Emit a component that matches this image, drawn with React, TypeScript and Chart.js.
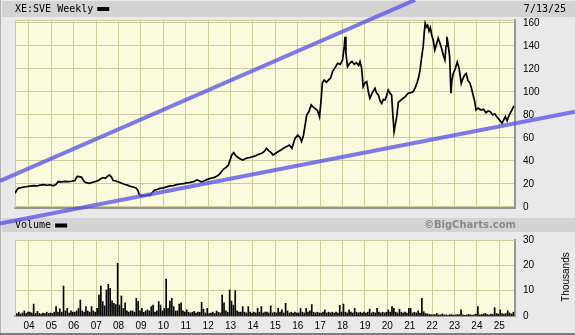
import React, { useEffect, useRef } from 'react';
import { Chart, registerables } from 'chart.js';

Chart.register(...registerables);

// ---------- texts ----------
const TITLE = 'XE:SVE Weekly';
const DATE_LABEL = '7/13/25';
const VOLUME_TITLE = 'Volume';
const CREDIT = '\u00A9BigCharts.com';
const VOLUME_UNIT = 'Thousands';

// ---------- axes ----------
const X_MIN = 2003.375;
const X_MAX = 2025.7;
const YEAR_TICKS = [2004, 2005, 2006, 2007, 2008, 2009, 2010, 2011, 2012, 2013, 2014, 2015, 2016, 2017, 2018, 2019, 2020, 2021, 2022, 2023, 2024, 2025];
const YEAR_LABELS = ['04', '05', '06', '07', '08', '09', '10', '11', '12', '13', '14', '15', '16', '17', '18', '19', '20', '21', '22', '23', '24', '25'];
const PRICE_TICKS = [0, 20, 40, 60, 80, 100, 120, 140, 160];
const PRICE_MIN = -0.87;
const PRICE_MAX = 162.6;
const VOLUME_TICKS = [0, 10, 20, 30];
const VOLUME_MIN = 0;
const VOLUME_MAX = 30;

// ---------- price series ----------
const PRICE_DATES = [
  2003.375, 2003.45, 2003.52, 2003.7, 2003.85, 2004.05, 2004.2, 2004.35, 2004.5, 2004.65, 2004.8, 2004.95,
  2005.08, 2005.2, 2005.3, 2005.45, 2005.6, 2005.75, 2005.9, 2006.05, 2006.15, 2006.25, 2006.35, 2006.45,
  2006.55, 2006.7, 2006.85, 2007.0, 2007.1, 2007.22, 2007.32, 2007.42, 2007.52, 2007.6, 2007.68, 2007.76,
  2007.88, 2008.0, 2008.14, 2008.28, 2008.4, 2008.52, 2008.65, 2008.78, 2008.86, 2008.92, 2009.0, 2009.1,
  2009.2, 2009.3, 2009.4, 2009.5, 2009.6, 2009.72, 2009.85, 2010.0, 2010.15, 2010.3, 2010.45, 2010.6,
  2010.75, 2010.9, 2011.05, 2011.2, 2011.35, 2011.5, 2011.6, 2011.7, 2011.85, 2012.0, 2012.12, 2012.25,
  2012.38, 2012.48, 2012.58, 2012.68, 2012.8, 2012.9, 2012.98, 2013.06, 2013.14, 2013.22, 2013.3, 2013.42,
  2013.55, 2013.7, 2013.85, 2014.0, 2014.12, 2014.25, 2014.4, 2014.52, 2014.6, 2014.7, 2014.8, 2014.9,
  2015.0, 2015.12, 2015.25, 2015.35, 2015.5, 2015.62, 2015.74, 2015.8, 2015.88, 2016.0, 2016.1, 2016.17,
  2016.25, 2016.32, 2016.4, 2016.5, 2016.6, 2016.68, 2016.77, 2016.88, 2016.97, 2017.04, 2017.1, 2017.18,
  2017.28, 2017.38, 2017.46, 2017.56, 2017.66, 2017.78, 2017.9, 2018.0, 2018.08, 2018.11, 2018.15, 2018.22,
  2018.32, 2018.42, 2018.52, 2018.62, 2018.72, 2018.78, 2018.85, 2018.92, 2019.0, 2019.08, 2019.15, 2019.22,
  2019.32, 2019.45, 2019.52, 2019.6, 2019.68, 2019.75, 2019.82, 2019.9, 2019.97, 2020.04, 2020.12, 2020.19,
  2020.24, 2020.3, 2020.36, 2020.42, 2020.49, 2020.58, 2020.7, 2020.8, 2020.93, 2021.05, 2021.16, 2021.25,
  2021.32, 2021.4, 2021.46, 2021.53, 2021.6, 2021.65, 2021.69, 2021.74, 2021.8, 2021.86, 2021.92, 2021.98,
  2022.05, 2022.12, 2022.2, 2022.27, 2022.34, 2022.42, 2022.5, 2022.57, 2022.62, 2022.66, 2022.72, 2022.78,
  2022.84, 2022.88, 2022.94, 2023.03, 2023.12, 2023.2, 2023.3, 2023.38, 2023.46, 2023.52, 2023.6, 2023.68,
  2023.74, 2023.82, 2023.9, 2023.96, 2024.05, 2024.18, 2024.3, 2024.4, 2024.5, 2024.6, 2024.7, 2024.8,
  2024.88, 2024.96, 2025.05, 2025.12, 2025.2, 2025.27, 2025.35, 2025.42, 2025.5, 2025.58, 2025.65,
];
const PRICE_VALUES = [
  12, 14.5, 16.2, 17, 17.6, 18.2, 18.6, 18.3, 19, 19.4, 18.9, 19.3,
  18.4, 19.5, 22, 21.8, 22.3, 22.1, 22.4, 23, 26.6, 26.4, 25.8, 22.5,
  21.2, 20.6, 21.5, 22.4, 23, 24.8, 25.5, 25, 27, 27.8, 26, 23,
  22.6, 21.8, 20.6, 19.6, 19, 17.9, 17.4, 16.5, 14.5, 10.8, 9.6, 10.2,
  9.8, 10.6, 10.2, 12.4, 14.6, 15.2, 16.2, 16.6, 17.5, 18.3, 18.6, 19.4,
  20, 20.3, 21, 21.4, 22, 23.5, 22.8, 21.7, 23, 24.2, 25, 25.5,
  26.8, 28, 30.5, 32.8, 34.5, 36.5, 41, 45.5, 47.2, 45, 43.5, 42,
  40.9, 42.3, 43, 43.8, 44.5, 45.8, 46.7, 48.5, 51, 49, 47.5, 45.2,
  46.5, 48, 49.5, 51, 52.5, 53.9, 51, 55, 59.7, 62.5, 60.5, 57,
  62, 70, 80, 83, 88.7, 87, 85.8, 84, 78.5, 92, 108, 110.4,
  108.5, 110.5, 112, 118, 121, 125, 124, 127.8, 140, 148, 134, 122,
  125, 126.5, 124, 125.5, 123, 126.5, 121, 104.6, 108, 109, 100.3, 94.5,
  99, 103.2, 99, 97.4, 92, 90.1, 93.5, 93, 97, 101.7, 99, 97.4,
  82, 65.5, 72, 78.5, 91, 92.5, 94.5, 96, 98.9, 99.5, 100.3, 104,
  107.5, 113, 119, 130, 139.4, 152, 159.7, 156.5, 158, 153, 156, 149.6,
  145, 136.5, 142, 146.7, 143, 138, 132, 127.8, 140, 148, 141, 131,
  99, 110, 116, 120, 126, 121, 107.5, 112, 115, 116, 110, 108,
  104.6, 98, 92, 84.3, 86, 84.3, 85, 82, 83.5, 82.9, 80, 81,
  78.5, 77, 74.5, 72.8, 76, 78.5, 75, 79, 82, 85, 88,
];

// ---------- trend lines (date, price) ----------
const UPPER_TREND_DATES = [2002.705, 2021.232];
const UPPER_TREND_VALUES = [22.6, 180];
const LOWER_TREND_DATES = [2002.705, 2028.375];
const LOWER_TREND_VALUES = [-14.35, 82.9];

// ---------- volume (thousands), one value per month from June 2003 ----------
const VOLUME_FIRST_MONTH = 2003 + 5 / 12;
const VOLUME_VALUES = [
  1, 1.5, 0.8, 1.2, 2, 1, 1.5,
  1.5, 1.2, 4.7, 1, 1.8, 1, 0.8, 1.2, 1, 1.5, 1, 1.2,
  1, 1.5, 3.7, 1.5, 2.8, 1.5, 11.8, 2, 3, 1.2, 2, 1.5,
  1.5, 2, 3, 6.3, 2, 1.5, 3.7, 2, 1.5, 3.7, 2, 1.5,
  3, 8.3, 11.8, 5.7, 4, 10.3, 12.5, 10.9, 6, 5, 4.5, 20.8,
  4.3, 7.9, 3, 5.2, 2, 1.5, 2, 2, 1.5, 7, 5.7, 2,
  3, 1.5, 2, 2.4, 2, 3.7, 4.3, 1.5, 2, 5.7, 4.3, 2,
  3, 14.6, 3, 5.9, 7, 3.7, 2, 2, 4.7, 5.2, 2, 1.5,
  2.4, 1.5, 1.2, 1.5, 1.8, 1.2, 1.5, 1.5, 5.4, 2.7, 1.2, 3,
  1, 1.2, 1.5, 1, 2, 1.5, 1.2, 8.3, 5.2, 2, 1.5, 10.3,
  5.9, 4.3, 10, 2, 1.5, 1.5, 3.7, 1.5, 1.2, 3.7, 1.5, 1.2,
  1.5, 1.2, 3, 1.5, 3.7, 1.2, 1.5, 1.5, 1.2, 4, 1.2, 1.5,
  1.2, 3, 1.5, 2.4, 1.2, 5, 2, 1.2, 1.5, 1.2, 1.5, 1.2,
  1.2, 3, 1.5, 1.2, 3, 1.5, 2, 4.5, 1.5, 1.2, 1.5, 1.2,
  1.2, 1.5, 2.4, 1.2, 1.5, 1.2, 1.5, 1.2, 1.5, 1.2, 4.2, 1.5,
  4.7, 1.5, 1.2, 2.4, 1.5, 1.2, 3, 1.5, 1.2, 1.5, 1.2, 1.5,
  1.2, 1.5, 2.7, 1.2, 1.5, 1.2, 3, 1.5, 1.2, 1.5, 1.2, 1.5,
  2.4, 1.5, 3.7, 3, 1.5, 1.2, 2.7, 1.5, 1.2, 1.5, 1.2, 3,
  3, 1.2, 1.5, 1.2, 2, 1.2, 7, 1.7, 1, 0.8, 0.6, 0.5,
  0.5, 0.6, 1, 0.4, 0.5, 0.8, 0.4, 0.5, 0.3, 0.6, 0.5, 0.4,
  0.4, 0.6, 0.5, 2.4, 0.5, 0.3, 0.4, 0.6, 0.5, 0.3, 0.5, 0.8,
  3.7, 0.5, 0.6, 0.8, 1, 0.6, 0.5, 0.8, 0.6, 3.3, 1, 0.8,
  2.4, 1, 0.8, 1, 2.1, 1.2, 0.8, 1.5,
];

// ---------- styles ----------
const W = 575;
const H = 335;
const PAGE_BG = '#e9e9e9';
const BAR_BG = '#d3d3d3';
const PLOT_BG = '#fafadc';
const GRID = '#cbcb9c';
const EDGE = '#959595';
const TREND = 'rgba(80, 80, 232, 0.75)';
const MONO = '"DejaVu Sans Mono", monospace';
const SANS = '"Liberation Sans", Arial, sans-serif';

const tickFont = { family: SANS, size: 10 };

function fillPlot(chart: any) {
  const a = chart.chartArea;
  const ctx = chart.ctx;
  ctx.save();
  ctx.fillStyle = PLOT_BG;
  ctx.fillRect(a.left, a.top, a.right - a.left, a.bottom - a.top);
  ctx.restore();
}

function edgeLines(chart: any) {
  const a = chart.chartArea;
  const ctx = chart.ctx;
  ctx.save();
  ctx.strokeStyle = GRID;
  ctx.lineWidth = 1;
  ctx.beginPath();
  ctx.moveTo(a.left + 0.5, a.bottom);
  ctx.lineTo(a.left + 0.5, a.top + 0.5);
  ctx.lineTo(a.right, a.top + 0.5);
  ctx.stroke();
  ctx.restore();
}

const pagePlugin = {
  id: 'pageBackground',
  beforeDraw(chart: any) {
    const ctx = chart.ctx;
    ctx.save();
    ctx.fillStyle = PAGE_BG;
    ctx.fillRect(0, 0, W, H);
    ctx.fillStyle = BAR_BG;
    ctx.fillRect(2, 1, W - 2, 16);
    ctx.fillRect(2, 218, W - 2, 14);
    ctx.fillStyle = '#b4b4b4';
    ctx.fillRect(0, 0, 1, H);
    ctx.fillStyle = '#7d7d7d';
    ctx.fillRect(0, H - 2, W, 2);

    ctx.fillStyle = '#000';
    ctx.textBaseline = 'middle';
    ctx.font = `10px ${MONO}`;
    ctx.textAlign = 'left';
    ctx.fillText(TITLE, 15, 9.5);
    const tw = ctx.measureText(TITLE).width;
    ctx.fillRect(15 + tw + 4, 7, 12, 4);
    ctx.fillText(VOLUME_TITLE, 15, 225.5);
    const vw = ctx.measureText(VOLUME_TITLE).width;
    ctx.fillRect(15 + vw + 4, 223.5, 12, 4);
    ctx.textAlign = 'right';
    ctx.fillText(DATE_LABEL, 566, 9.5);

    ctx.font = `bold 10px "DejaVu Sans", sans-serif`;
    ctx.fillStyle = '#8a8a8a';
    ctx.fillText(CREDIT, 516, 225.5);

    ctx.save();
    ctx.translate(566, 277);
    ctx.rotate(-Math.PI / 2);
    ctx.textAlign = 'center';
    ctx.fillStyle = '#000';
    ctx.font = `10px ${SANS}`;
    ctx.fillText(VOLUME_UNIT, 0, 0);
    ctx.restore();
    ctx.restore();
    fillPlot(chart);
  },
  beforeDatasetsDraw(chart: any) {
    edgeLines(chart);
  },
};

const pricePlugin = {
  id: 'priceDecor',
  beforeDraw(chart: any) {
    fillPlot(chart);
  },
  beforeDatasetsDraw(chart: any) {
    edgeLines(chart);
  },
  afterDatasetsDraw(chart: any) {
    const xs = chart.scales.x;
    const ys = chart.scales.y;
    const ctx = chart.ctx;
    ctx.save();
    ctx.strokeStyle = TREND;
    ctx.lineWidth = 4;
    const lines = [
      [UPPER_TREND_DATES, UPPER_TREND_VALUES],
      [LOWER_TREND_DATES, LOWER_TREND_VALUES],
    ];
    for (const [d, v] of lines) {
      ctx.beginPath();
      ctx.moveTo(xs.getPixelForValue(d[0]), ys.getPixelForValue(v[0]));
      ctx.lineTo(xs.getPixelForValue(d[1]), ys.getPixelForValue(v[1]));
      ctx.stroke();
    }
    ctx.restore();
  },
};

export default function App() {
  const priceRef = useRef<HTMLCanvasElement>(null);
  const volRef = useRef<HTMLCanvasElement>(null);

  useEffect(() => {
    const volChart = new Chart(volRef.current as HTMLCanvasElement, {
      type: 'bar',
      data: {
        datasets: [
          {
            data: VOLUME_VALUES.map((v, i) => ({ x: VOLUME_FIRST_MONTH + (i + 0.5) / 12, y: v })),
            backgroundColor: '#000',
            borderWidth: 0,
            barThickness: 1,
          },
        ],
      },
      options: {
        animation: false,
        responsive: false,
        maintainAspectRatio: false,
        layout: { padding: { left: 15, top: 240, right: 0, bottom: 0 } },
        plugins: { legend: { display: false }, tooltip: { enabled: false } },
        scales: {
          x: {
            type: 'linear',
            min: X_MIN,
            max: X_MAX,
            offset: false,
            afterBuildTicks: (s: any) => {
              s.ticks = YEAR_TICKS.map((v) => ({ value: v }));
            },
            afterFit: (s: any) => {
              s.height = 19;
            },
            ticks: {
              autoSkip: false,
              maxRotation: 0,
              padding: 4,
              color: '#000',
              font: tickFont,
              callback: (v: any) => YEAR_LABELS[YEAR_TICKS.indexOf(Number(v))] ?? '',
            },
            grid: { color: GRID, drawTicks: false, offset: false },
            border: { color: EDGE, width: 2 },
          },
          y: {
            position: 'right',
            min: VOLUME_MIN,
            max: VOLUME_MAX,
            afterBuildTicks: (s: any) => {
              s.ticks = VOLUME_TICKS.map((v) => ({ value: v }));
            },
            afterFit: (s: any) => {
              s.width = 60;
            },
            ticks: { padding: 8, color: '#000', font: tickFont },
            grid: { color: GRID, drawTicks: false },
            border: { color: EDGE, width: 2 },
          },
        },
      },
      plugins: [pagePlugin],
    } as any);

    const priceChart = new Chart(priceRef.current as HTMLCanvasElement, {
      type: 'line',
      data: {
        datasets: [
          {
            data: PRICE_DATES.map((d, i) => ({ x: d, y: PRICE_VALUES[i] })),
            borderColor: '#000',
            borderWidth: 1.7,
            pointRadius: 0,
            tension: 0,
            fill: false,
          },
        ],
      },
      options: {
        animation: false,
        responsive: false,
        maintainAspectRatio: false,
        layout: { padding: { left: 15, top: 20, right: 0, bottom: 127 } },
        plugins: { legend: { display: false }, tooltip: { enabled: false } },
        scales: {
          x: {
            type: 'linear',
            min: X_MIN,
            max: X_MAX,
            afterBuildTicks: (s: any) => {
              s.ticks = YEAR_TICKS.map((v) => ({ value: v }));
            },
            afterFit: (s: any) => {
              s.height = 0;
            },
            ticks: { display: false },
            grid: { color: GRID, drawTicks: false },
            border: { color: EDGE, width: 2 },
          },
          y: {
            position: 'right',
            min: PRICE_MIN,
            max: PRICE_MAX,
            afterBuildTicks: (s: any) => {
              s.ticks = PRICE_TICKS.map((v) => ({ value: v }));
            },
            afterFit: (s: any) => {
              s.width = 60;
            },
            ticks: { padding: 8, color: '#000', font: tickFont },
            grid: { color: GRID, drawTicks: false },
            border: { color: EDGE, width: 2 },
          },
        },
      },
      plugins: [pricePlugin],
    } as any);

    return () => {
      priceChart.destroy();
      volChart.destroy();
    };
  }, []);

  const canvasStyle: React.CSSProperties = { position: 'absolute', left: 0, top: 0, width: W, height: H, display: 'block' };

  return (
    <div style={{ position: 'absolute', left: 0, top: 0, width: W, height: H }}>
      <canvas ref={volRef} width={W} height={H} style={canvasStyle} />
      <canvas ref={priceRef} width={W} height={H} style={canvasStyle} />
    </div>
  );
}
